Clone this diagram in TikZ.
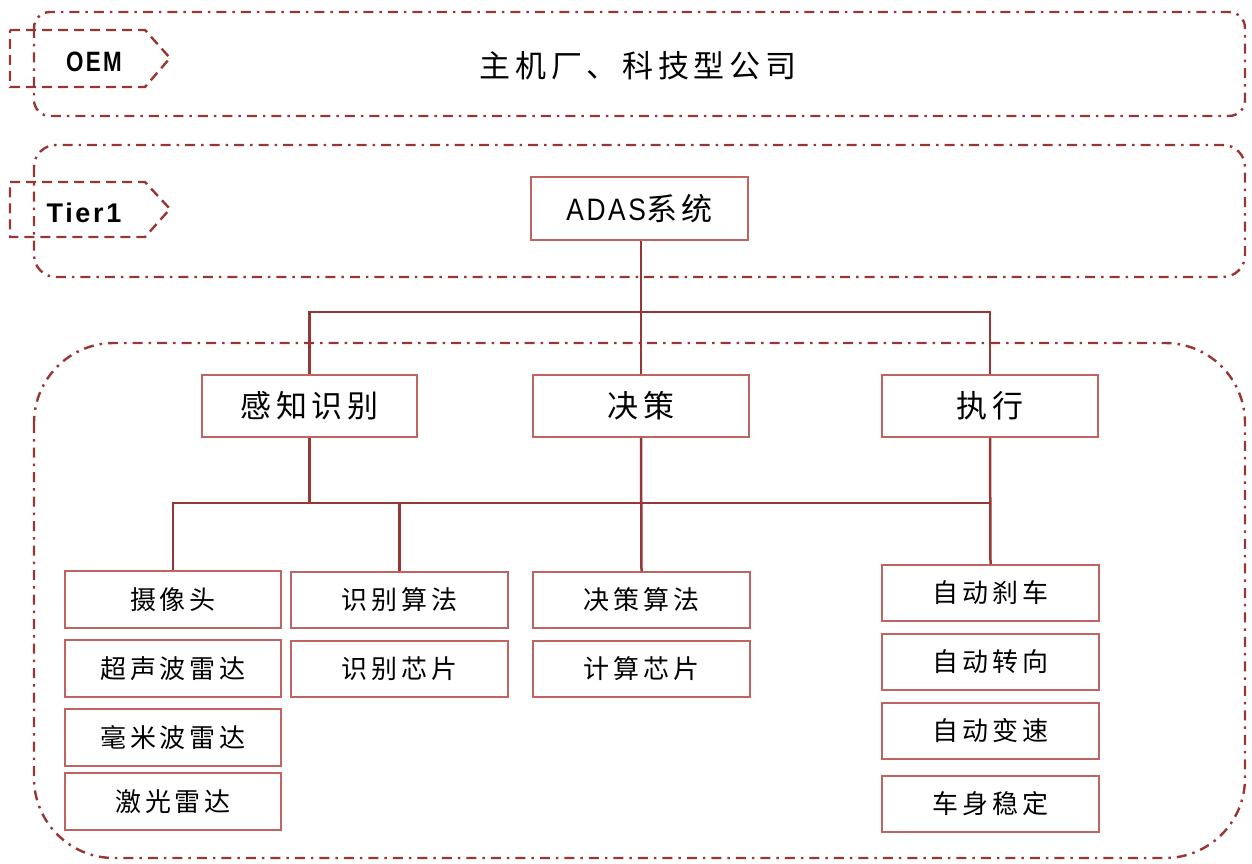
\documentclass[tikz,border=0pt]{standalone}
\usepackage{fontspec}
\newfontfamily\cjk[LetterSpace=15]{Noto Sans CJK SC}
\newfontfamily\tagfont[LetterSpace=10]{Liberation Sans}
\definecolor{linered}{RGB}{150,55,53}
\definecolor{boxred}{RGB}{192,100,98}
\begin{document}
\begin{tikzpicture}[x=1pt,y=-1pt,
  container/.style={draw=linered,line width=2.4pt,dash pattern=on 10pt off 6pt on 2.5pt off 6pt},
  tagshape/.style={draw=linered,line width=2.4pt,dash pattern=on 10pt off 6pt},
  lvtwo/.style={draw=boxred,line width=1.6pt,minimum width=216pt,minimum height=62pt,inner sep=0pt,font=\cjk\fontsize{31}{34}\selectfont},
  lvthree/.style={draw=boxred,line width=1.6pt,minimum width=216pt,minimum height=57pt,inner sep=0pt,font=\cjk\fontsize{26}{30}\selectfont},
  conn/.style={draw=linered,line width=2.5pt}
]
\useasboundingbox (0,0) rectangle (1252,864);
% containers
\draw[container,rounded corners=16pt] (34,12) rectangle (1245,116);
\draw[container,rounded corners=22pt] (34,145) rectangle (1245,277);
\draw[container,rounded corners=80pt] (34,343) rectangle (1245,858);
% tags
\draw[tagshape] (10,30) -- (145,30) -- (170,58) -- (145,87) -- (10,87) -- cycle;
\draw[tagshape] (10,182) -- (145,182) -- (170,209) -- (145,237) -- (10,237) -- cycle;
\node (oem) at (94,62) {\tagfont\bfseries\fontsize{28}{30}\selectfont\scalebox{0.8}[1]{OEM}};
\node (tier) at (84,213) {\tagfont\bfseries\fontsize{27}{30}\selectfont Tier1};
\node (title) at (638,66) {\cjk\fontsize{31}{34}\selectfont 主机厂、科技型公司};
% level 1
\node[lvtwo,minimum width=217pt,minimum height=63pt] (adas) at (639.5,208.5) {\tagfont\fontsize{31}{32}\selectfont\scalebox{0.85}[1]{ADAS}\cjk 系统};
% level 2
\node[lvtwo,minimum width=215pt] (gz) at (309.5,406) {感知识别};
\node[lvtwo] (jc) at (641,406) {决策};
\node[lvtwo] (zx) at (990,406) {执行};
% level 3
\node[lvthree] (cam) at (173,599.5) {摄像头};
\node[lvthree] (csb) at (173,668.5) {超声波雷达};
\node[lvthree] (hmb) at (173,737.5) {毫米波雷达};
\node[lvthree] (jgl) at (173,801.5) {激光雷达};
\node[lvthree,minimum width=217pt,minimum height=56pt] (sbsf) at (399.5,600) {识别算法};
\node[lvthree,minimum width=217pt,minimum height=56pt] (sbxp) at (399.5,669) {识别芯片};
\node[lvthree,minimum width=217pt,minimum height=56pt] (jcsf) at (641.5,600) {决策算法};
\node[lvthree,minimum width=217pt,minimum height=56pt] (jsxp) at (641.5,669) {计算芯片};
\node[lvthree,minimum width=217pt,minimum height=56pt] (zdsc) at (990.5,593) {自动刹车};
\node[lvthree,minimum width=217pt,minimum height=56pt] (zdzx) at (990.5,662) {自动转向};
\node[lvthree,minimum width=217pt,minimum height=56pt] (zdbs) at (990.5,731) {自动变速};
\node[lvthree,minimum width=217pt,minimum height=56pt] (csw) at (990.5,804) {车身稳定};
% connectors level 1 -> 2
\coordinate (busone) at (641,312);
\draw[conn] (adas.south -| busone) -- (busone);
\draw[conn] (busone) -| (gz.north);
\draw[conn] (busone) -| (zx.north);
\draw[conn] (busone) -- (jc.north);
% connectors level 2 -> 3
\coordinate (bustwo) at (641,503);
\draw[conn] (gz.south) -- (gz.south |- bustwo);
\draw[conn] (cam.north) |- (zx.south |- bustwo);
\draw[conn] (zx.south) -- (zdsc.north);
\draw[conn] (jc.south) -- (jcsf.north);
\draw[conn] (sbsf.north |- bustwo) -- (sbsf.north);
\end{tikzpicture}
\end{document}
